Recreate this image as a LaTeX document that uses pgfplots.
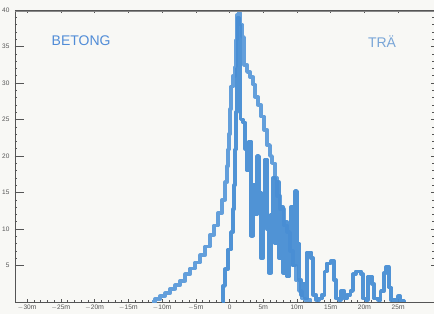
\documentclass[border=0pt]{standalone}
\usepackage{pgfplots}
\pgfplotsset{compat=1.18}
\usepackage{fontspec}
\setmainfont{Liberation Sans}
\definecolor{bgcol}{RGB}{248,248,245}
\definecolor{axcol}{RGB}{85,85,85}
\definecolor{lineblue}{RGB}{72,142,212}
\definecolor{txtblue}{RGB}{80,140,215}
\definecolor{txtblue2}{RGB}{120,165,215}

\pgfplotstableread{
x y
-11.48 0
-11.04 0.4
-10.30 0.8
-9.56 1.2
-8.81 1.8
-8.07 2.3
-7.33 2.9
-6.59 3.8
-5.85 4.6
-5.11 5.4
-4.37 6.4
-3.63 7.6
-2.89 9.2
-2.30 10.5
-1.70 12.2
-1.11 14.0
-0.67 16.4
-0.37 18.6
-0.22 20.9
-0.07 23.0
0.07 26.4
0.22 29.5
0.52 31.0
0.81 32.2
0.96 35.9
1.11 39.3
1.33 39.6
1.56 38.0
1.85 36.3
2.15 32.5
2.59 31.5
3.04 30.8
3.48 29.8
3.78 28.1
4.22 27.0
4.67 25.4
5.11 23.6
5.56 21.5
6.00 20.0
6.30 19.0
6.74 17.0
7.04 14.5
7.48 12.7
8.07 10.5
8.52 9.6
8.96 7.0
9.40 5.0
9.85 3.0
10.30 1.5
10.74 0.5
11.20 0.3
12.00 0.0
}\betong

\pgfplotstableread{
x y
-1.11 0
-0.96 2.2
-0.67 4.5
-0.22 7.2
0.22 9.6
0.52 12.7
0.67 16.0
0.81 20.9
0.96 26.0
1.11 32.0
1.26 39.0
1.48 38.0
1.63 25.0
2.00 24.6
2.30 21.0
2.59 18.0
2.89 22.0
3.19 9.0
3.48 16.0
3.78 12.0
4.07 20.0
4.37 15.0
4.67 6.0
4.96 14.0
5.26 19.5
5.56 10.0
5.85 4.0
6.15 12.0
6.44 17.0
6.74 8.0
7.04 16.4
7.33 6.0
7.63 13.0
7.93 4.0
8.22 11.0
8.52 3.5
8.81 9.0
9.11 13.0
9.41 5.0
9.70 15.2
10.00 8.0
10.30 3.0
10.60 1.0
10.90 2.5
11.20 0.5
11.50 6.8
12.10 6.0
12.40 1.0
12.80 0.3
13.30 0.5
13.70 1.0
14.10 4.2
14.40 5.3
15.00 5.6
15.50 3.0
15.80 0.5
16.20 0.3
16.50 1.5
17.00 0.5
17.40 1.0
17.90 1.5
18.30 3.8
18.70 4.2
19.50 3.8
19.80 0.5
20.20 0.3
20.50 3.5
21.10 2.5
21.40 0.5
22.00 0.3
22.40 1.5
22.90 4.0
23.20 4.8
23.60 2.0
23.90 0.3
24.50 0.3
25.00 0.8
25.30 0.2
25.90 0.0
}\tra

\begin{document}
\begin{tikzpicture}
\fill[bgcol] (-15pt,-12pt) rectangle (419pt,302pt);
\begin{axis}[
  at={(0,0)}, anchor=south west,
  scale only axis, width=419pt, height=292pt,
  xmin=-31.8, xmax=30.3, ymin=0, ymax=40,
  axis line style={axcol, line width=0.6pt},
  tick style={axcol, line width=0.6pt},
  tick align=inside,
  major tick length=3pt, minor tick length=2pt,
  xtick={-30,-25,...,25},
  xticklabels={{$-$30{\scriptsize m}},{$-$25{\scriptsize m}},{$-$20{\scriptsize m}},{$-$15{\scriptsize m}},{$-$10{\scriptsize m}},{$-$5{\scriptsize m}},0,{5{\scriptsize m}},{10{\scriptsize m}},{15{\scriptsize m}},{20{\scriptsize m}},{25{\scriptsize m}}},
  minor x tick num=4,
  ytick={5,10,...,40},
  yticklabels={5,10,15,20,25,30,35,40},
  minor y tick num=4,
  xtick pos=both, ytick pos=both,
  xticklabel style={font=\fontsize{6.5}{7}\selectfont, text=axcol, yshift=1pt},
  yticklabel style={font=\fontsize{6.5}{7}\selectfont, text=axcol, xshift=-2pt},
  clip=true,
]
\addplot[const plot, lineblue!85!white, line width=3.6pt, line join=round] table[x=x,y=y] {\betong};
\addplot[const plot, lineblue, line width=3.6pt, line join=round, opacity=0.95] table[x=x,y=y] {\tra};
\draw[axcol!70, line width=0.5pt] ([yshift=-1.6pt]rel axis cs:0,1) -- ([yshift=-1.6pt]rel axis cs:1,1);
\node[text=txtblue, font=\fontsize{14}{14}\selectfont] at (axis cs:-22,35.8) {BETONG};
\node[text=txtblue2, font=\fontsize{14}{14}\selectfont] at (axis cs:22.6,35.7) {TRÄ};
\end{axis}
\foreach \k in {1,...,7} {
  \draw[axcol, line width=0.9pt] (0pt,\k*36.5pt) -- ++(9pt,0pt);
}
\pgfresetboundingbox
\useasboundingbox (-15pt,-12pt) rectangle (419pt,302pt);
\end{tikzpicture}
\end{document}
